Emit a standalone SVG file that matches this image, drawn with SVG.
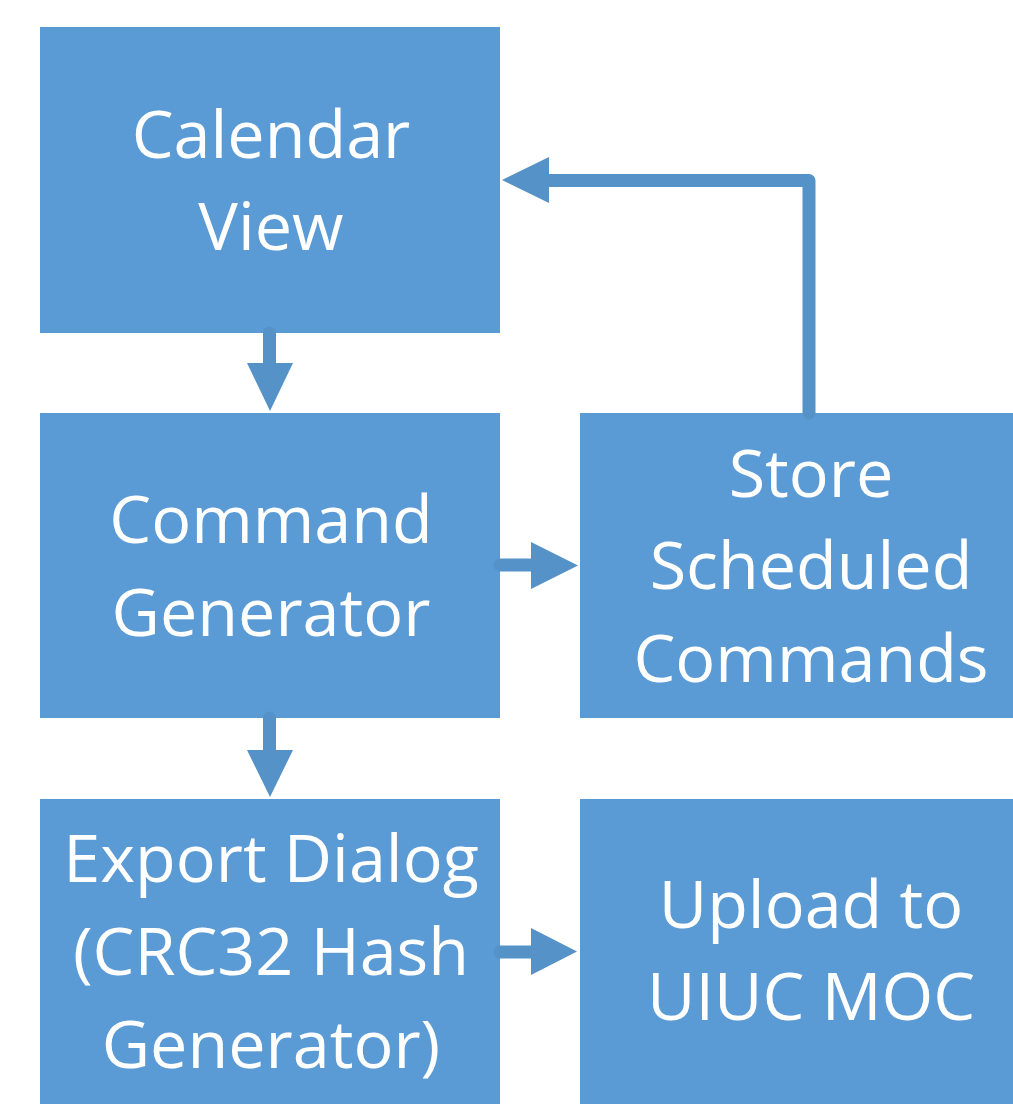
<svg xmlns="http://www.w3.org/2000/svg" width="1013" height="1106" viewBox="0 0 1013 1106">
<defs>
<style>
.box{fill:#5B9BD5}
.t{font-family:"Open Sans","Noto Sans",sans-serif;font-size:66.5px;fill:#fff;text-anchor:middle}
.ln{stroke:#5592C8;stroke-width:13;fill:none;stroke-linecap:round;stroke-linejoin:round}
.hd{fill:#5592C8}
</style>
</defs>
<rect width="1013" height="1106" fill="#fff"/>
<g id="calendar-view"><rect class="box" x="40" y="27" width="460" height="306"/><text class="t"><tspan x="271" y="158">Calendar</tspan><tspan x="271" y="250">View</tspan></text></g>
<g id="command-generator"><rect class="box" x="40" y="413" width="460" height="305"/><text class="t"><tspan x="271" y="543">Command</tspan><tspan x="271" y="636">Generator</tspan></text></g>
<g id="store-scheduled-commands"><rect class="box" x="580" y="413" width="433" height="305"/><text class="t"><tspan x="811" y="497">Store</tspan><tspan x="811" y="589">Scheduled</tspan><tspan x="811" y="682">Commands</tspan></text></g>
<g id="export-dialog"><rect class="box" x="40" y="799" width="460" height="305"/><text class="t"><tspan x="271" y="882">Export Dialog</tspan><tspan x="271" y="975">(CRC32 Hash</tspan><tspan x="271" y="1068">Generator)</tspan></text></g>
<g id="upload-to-uiuc-moc"><rect class="box" x="580" y="799" width="433" height="305"/><text class="t"><tspan x="811" y="928">Upload to</tspan><tspan x="811" y="1020">UIUC MOC</tspan></text></g>
<g id="connectors">
<path class="ln" d="M269.5 333 V364"/><polygon class="hd" points="247,363 293,363 270,411"/>
<path class="ln" d="M269.5 718 V751"/><polygon class="hd" points="247,750 293,750 270,797"/>
<path class="ln" d="M500 565 H532"/><polygon class="hd" points="531,542 531,589 578,565.5"/>
<path class="ln" d="M500 952 H532"/><polygon class="hd" points="531,928 531,975 577,951.5"/>
<path class="ln" d="M809 413 V180.5 H548"/><polygon class="hd" points="549,157 549,203 502,180"/>
</g>
</svg>
